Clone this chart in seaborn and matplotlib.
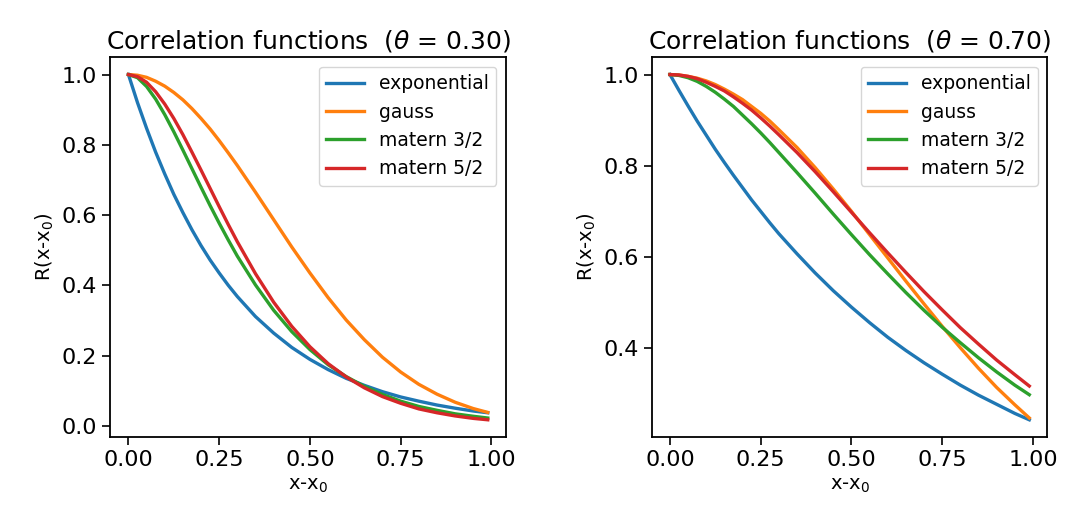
import pandas as pd
import seaborn as sns
import matplotlib
matplotlib.use("Agg")
import matplotlib.pyplot as plt

# distance grid (finer near zero where the curves bend most)
x = [0.000, 0.025, 0.050, 0.075, 0.100, 0.125, 0.150, 0.175, 0.200, 0.225, 0.250,
     0.275, 0.300, 0.35, 0.40, 0.45, 0.50, 0.55, 0.60, 0.65, 0.70, 0.75, 0.80,
     0.85, 0.90, 0.95, 0.99]

kinds = ["exponential", "gauss", "matern 3/2", "matern 5/2"]
thetas = [0.30, 0.70]

# theta = 0.30
exp_030 = [1.000, 0.920, 0.847, 0.779, 0.717, 0.659, 0.607, 0.558, 0.513, 0.472, 0.435,
           0.400, 0.368, 0.311, 0.264, 0.223, 0.189, 0.160, 0.135, 0.115, 0.097, 0.082,
           0.070, 0.059, 0.050, 0.042, 0.037]
gauss_030 = [1.000, 0.998, 0.992, 0.981, 0.967, 0.949, 0.928, 0.903, 0.875, 0.845, 0.812,
             0.777, 0.741, 0.665, 0.587, 0.509, 0.435, 0.365, 0.301, 0.245, 0.195, 0.153,
             0.118, 0.090, 0.067, 0.049, 0.038]
m32_030 = [1.000, 0.991, 0.966, 0.930, 0.886, 0.837, 0.785, 0.732, 0.679, 0.627, 0.577,
           0.529, 0.483, 0.401, 0.329, 0.268, 0.217, 0.174, 0.140, 0.112, 0.089, 0.070,
           0.055, 0.044, 0.034, 0.027, 0.022]
m52_030 = [1.000, 0.994, 0.978, 0.951, 0.916, 0.875, 0.829, 0.779, 0.728, 0.676, 0.624,
           0.573, 0.524, 0.433, 0.352, 0.283, 0.225, 0.177, 0.139, 0.108, 0.083, 0.064,
           0.048, 0.037, 0.028, 0.021, 0.017]

# theta = 0.70
exp_070 = [1.000, 0.965, 0.931, 0.898, 0.867, 0.836, 0.807, 0.779, 0.752, 0.725, 0.700,
           0.675, 0.651, 0.607, 0.565, 0.526, 0.490, 0.456, 0.424, 0.395, 0.368, 0.343,
           0.319, 0.297, 0.277, 0.257, 0.243]
gauss_070 = [1.000, 0.999, 0.996, 0.992, 0.986, 0.978, 0.968, 0.957, 0.945, 0.930, 0.915,
             0.898, 0.879, 0.840, 0.796, 0.749, 0.700, 0.649, 0.598, 0.547, 0.497, 0.448,
             0.401, 0.356, 0.314, 0.276, 0.247]
m32_070 = [1.000, 0.998, 0.993, 0.985, 0.974, 0.961, 0.946, 0.930, 0.911, 0.892, 0.872,
           0.851, 0.829, 0.785, 0.740, 0.694, 0.649, 0.605, 0.563, 0.522, 0.483, 0.446,
           0.412, 0.379, 0.348, 0.319, 0.298]
m52_070 = [1.000, 0.999, 0.996, 0.991, 0.983, 0.974, 0.964, 0.951, 0.937, 0.922, 0.905,
           0.887, 0.868, 0.829, 0.787, 0.743, 0.698, 0.653, 0.609, 0.566, 0.524, 0.484,
           0.445, 0.409, 0.374, 0.342, 0.317]

series = {
    0.30: [exp_030, gauss_030, m32_030, m52_030],
    0.70: [exp_070, gauss_070, m32_070, m52_070],
}

colors = sns.color_palette("tab10", 4)

fig, axes = plt.subplots(1, 2, figsize=(10.83, 5.16), dpi=100)
fig.subplots_adjust(left=0.102, right=0.967, top=0.889, bottom=0.153, wspace=0.37)

for ax, theta in zip(axes, thetas):
    rows = []
    for kind, vals in zip(kinds, series[theta]):
        for xi, yi in zip(x, vals):
            rows.append({"x": xi, "R": yi, "kind": kind})
    df = pd.DataFrame(rows)

    sns.lineplot(data=df, x="x", y="R", hue="kind", hue_order=kinds,
                 palette=colors, linewidth=2.4, ax=ax)

    ax.set_title(f"Correlation functions  ($\\theta$ = {theta:.2f})", fontsize=18)
    ax.set_xlabel("x-x$_0$", fontsize=14)
    ax.set_ylabel("R(x-x$_0$)", fontsize=14)
    ax.set_xticks([0.0, 0.25, 0.5, 0.75, 1.0])
    ax.tick_params(labelsize=16, length=6, width=1.2)
    for s in ax.spines.values():
        s.set_linewidth(1.3)
    ax.legend(title=None, fontsize=13.5, loc="upper right", handlelength=2.0)

axes[0].set_yticks([0.0, 0.2, 0.4, 0.6, 0.8, 1.0])
axes[1].set_yticks([0.4, 0.6, 0.8, 1.0])

fig.savefig("out.png", dpi=100)
